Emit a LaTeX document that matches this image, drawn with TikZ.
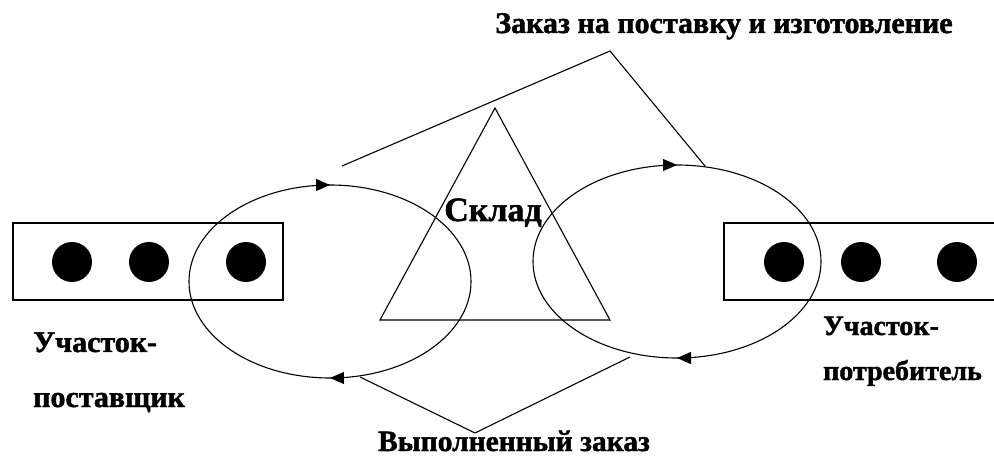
\documentclass[tikz,border=0pt]{standalone}
\usepackage{fontspec}
\setmainfont{Liberation Serif}[BoldFeatures={FakeBold=1.5}]
\usetikzlibrary{arrows.meta,decorations.markings}

\begin{document}
\begin{tikzpicture}[
  x=1pt, y=-1pt,
  every node/.style={font=\fontsize{30}{36}\selectfont\bfseries, inner sep=0pt},
  area/.style={
    draw,
    line width=1.6pt,
    minimum width=270pt,
    minimum height=77pt
  },
  unit/.style={circle, fill=black, minimum size=40pt, inner sep=0pt},
  flow/.style={
    draw,
    line width=1.1pt,
    postaction={decorate},
    decoration={markings,
      mark=at position 0.25 with {\arrow{Triangle[length=14pt,width=12pt]}},
      mark=at position 0.75 with {\arrow{Triangle[length=14pt,width=12pt]}}}
  },
  link/.style={draw, line width=1.1pt}
]
\useasboundingbox (0,0) rectangle (994,457);

% supplier and consumer areas
\node[area] (supplier) at (148,261.5) {};
\node[area, minimum width=276pt] (consumer) at (862,261.5) {};
\node[unit] (s1) at (72,262) {};
\node[unit] (s2) at (149,262) {};
\node[unit] (s3) at (246,262) {};
\node[unit] (c1) at (784,262) {};
\node[unit] (c2) at (861,262) {};
\node[unit] (c3) at (957,262) {};

% store
\draw[line width=1.1pt] (495,108) -- (610,320) -- (380,320) -- cycle;
\node[anchor=base, font=\fontsize{34}{40}\selectfont\bfseries] (store) at (493,221) {Склад};

% order loops
\path[flow] (330,281.5) ellipse (141 and 96.5);
\path[flow] (677,261.5) ellipse (144 and 96.5);

% labels
\node[anchor=base] (order) at (724,33) {Заказ на поставку и изготовление};
\node[anchor=base, font=\fontsize{29.5}{36}\selectfont\bfseries] (done) at (514,451) {Выполненный заказ};
\node[anchor=base west] (sup1) at (33,352) {Участок-};
\node[anchor=base west] (sup2) at (33,407) {поставщик};
\node[anchor=base west, font=\fontsize{28}{34}\selectfont\bfseries] (con1) at (823,335) {Участок-};
\node[anchor=base west, font=\fontsize{28}{34}\selectfont\bfseries] (con2) at (823,380) {потребитель};

% callouts
\coordinate (ordA) at (342,166);
\coordinate (ordB) at (610,51);
\coordinate (ordC) at (705,166);
\coordinate (doneA) at (360,377);
\coordinate (doneB) at (475,433);
\coordinate (doneC) at (630,357);
\path[link] (ordA) -- (ordB) -- (ordC);
\path[link] (doneA) -- (doneB) -- (doneC);
\end{tikzpicture}
\end{document}
